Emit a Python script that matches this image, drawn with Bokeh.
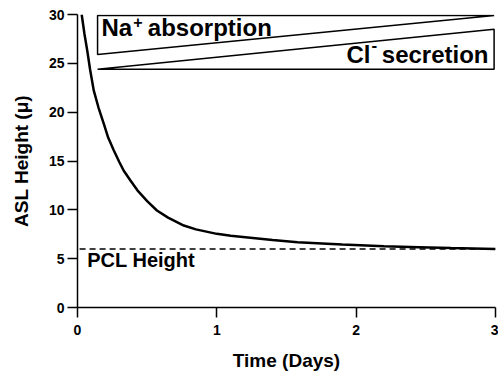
from bokeh.plotting import figure
from bokeh.models import FixedTicker
from bokeh.core.properties import value
from bokeh.embed import file_html
from bokeh.resources import INLINE

# ---- data ----
time_days = [0.03, 0.05, 0.07, 0.09, 0.117, 0.15, 0.189, 0.22, 0.26, 0.30, 0.332,
             0.38, 0.43, 0.50, 0.57, 0.65, 0.763, 0.85, 1.0, 1.1, 1.24, 1.4,
             1.58, 1.72, 1.9, 2.2, 2.45, 2.68, 3.0]
asl_height = [30.0, 28.0, 26.3, 24.4, 22.2, 20.5, 18.8, 17.4, 16.1, 14.9, 14.0,
              13.0, 12.0, 10.9, 9.93, 9.2, 8.39, 8.0, 7.54, 7.35, 7.15, 6.9,
              6.68, 6.58, 6.45, 6.27, 6.18, 6.1, 6.0]
pcl_x = [0.015, 3.0]
pcl_y = [6.0, 6.0]

na_xs = [0.144, 2.99, 0.144]
na_ys = [29.9, 29.9, 25.9]
cl_xs = [0.144, 2.99, 2.99]
cl_ys = [24.4, 24.4, 28.5]

x_ticks = [0, 1, 2, 3]
y_ticks = [0, 5, 10, 15, 20, 25, 30]

FONT = "Liberation Sans"

p = figure(width=498, height=373, x_range=(0, 3), y_range=(0, 30),
           output_backend="svg", toolbar_location=None,
           min_border_left=77, min_border_right=3, min_border_top=14,
           min_border_bottom=66)
p.outline_line_color = None
p.xgrid.visible = False
p.ygrid.visible = False
p.background_fill_color = "white"
p.border_fill_color = "white"

for ax in (p.xaxis[0], p.yaxis[0]):
    ax.axis_line_width = 1.5
    ax.axis_line_color = "black"
    ax.major_tick_line_width = 1.5
    ax.major_tick_line_color = "black"
    ax.major_tick_in = 0
    ax.major_tick_out = 10
    ax.minor_tick_line_color = None
    ax.major_label_text_font = FONT
    ax.major_label_text_font_style = "bold"
    ax.major_label_text_font_size = "14px"
    ax.major_label_text_color = "black"
    ax.axis_label_text_font = FONT
    ax.axis_label_text_font_style = "bold"
    ax.axis_label_text_font_size = "19px"
    ax.axis_label_text_color = "black"

p.xaxis.ticker = FixedTicker(ticks=x_ticks)
p.yaxis.ticker = FixedTicker(ticks=y_ticks)
p.xaxis.axis_label = "Time (Days)"
p.yaxis.axis_label = "ASL Height (\u03bc)"
p.xaxis.major_label_standoff = 7
p.xaxis.axis_label_standoff = 12
p.yaxis.major_label_standoff = 3
p.yaxis.axis_label_standoff = 14

# wedges
p.patch(na_xs, na_ys, fill_color="white", line_color="black", line_width=1.5)
p.patch(cl_xs, cl_ys, fill_color="white", line_color="black", line_width=1.5)

# PCL dashed line
p.line(pcl_x, pcl_y, line_color="black", line_width=1.5, line_dash="6 4")

# ASL curve
p.line(time_days, asl_height, line_color="black", line_width=2.5)

# labels
def txt(x, y, s, size, align="left", xoff=0):
    p.text(x=[x], y=[y], text=[s], text_font=value(FONT), text_font_style="bold",
           text_font_size=size, text_align=align, text_baseline="alphabetic",
           text_color="black", x_offset=xoff)

big = 24
# Na+ absorption
w_na = 1.278 * big
txt(0.172, 28.65, "Na", f"{big}px")
txt(0.172, 29.25, "+", "16px", xoff=w_na + 1)
txt(0.172, 28.65, "absorption", f"{big}px", xoff=w_na + 1 + 0.584 * 16 + 0.278 * big * 0.8)

# Cl- secretion (right aligned)
w_sec = 4.446 * big
gap = 0.278 * big * 0.7
txt(2.95, 25.95, "secretion", f"{big}px", align="right")
txt(2.95, 26.9, "-", "17px", align="right", xoff=-(w_sec + gap))
txt(2.95, 25.95, "Cl", f"{big}px", align="right",
    xoff=-(w_sec + gap + 0.333 * 17 + 1))

txt(0.07, 4.85, "PCL Height", "20px")

open("out.html", "w").write(file_html(p, INLINE))
